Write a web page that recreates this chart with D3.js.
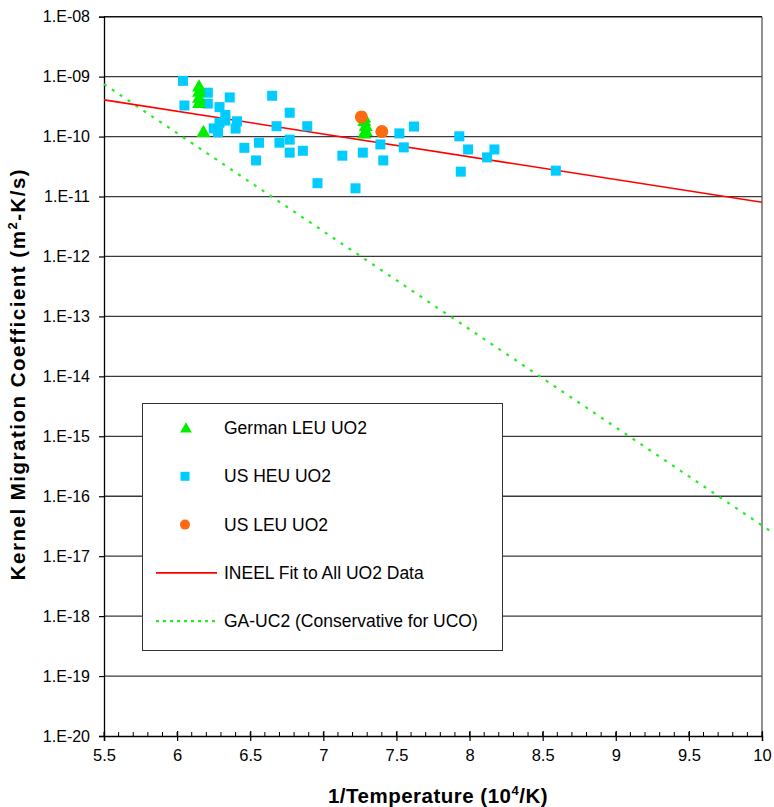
<!DOCTYPE html>
<html>
<head>
<meta charset="utf-8">
<script src="https://cdn.jsdelivr.net/npm/d3@7/dist/d3.min.js"></script>
<style>
  html, body { margin: 0; padding: 0; background: #fff; }
  svg { display: block; font-family: "Liberation Sans", Arial, sans-serif; }
</style>
</head>
<body>
<svg id="chart" width="774" height="807"></svg>
<script>
// German LEU UO2 (triangles): inverse temperature (10^4/K) and coefficient (m2-K/s)
const germanX = [6.15, 6.15, 6.15, 6.15, 6.18, 7.28, 7.28, 7.29, 7.29, 7.28];
const germanY = [6.6e-10, 5.4e-10, 4.3e-10, 3.5e-10, 1.15e-10, 2.0e-10, 1.75e-10, 1.45e-10, 1.2e-10, 1.08e-10];

// US HEU UO2 (squares)
const heuX = [6.04, 6.21, 6.05, 6.21, 6.36, 6.65, 6.29, 6.33, 6.77, 6.41,
              6.29, 6.33, 6.25, 6.40, 6.28, 6.68, 6.89, 6.56, 6.70, 6.77,
              6.46, 6.77, 6.86, 6.54, 6.96, 7.13, 7.27, 7.39, 7.52, 7.62,
              7.55, 7.41, 7.22, 7.93, 7.99, 8.17, 8.12, 7.94, 8.59];
const heuY = [8.5e-10, 5.4e-10, 3.3e-10, 3.55e-10, 4.5e-10, 4.8e-10, 3.1e-10, 2.3e-10, 2.5e-10, 1.8e-10,
              1.7e-10, 1.85e-10, 1.37e-10, 1.36e-10, 1.18e-10, 1.49e-10, 1.49e-10, 7.9e-11, 7.9e-11, 8.9e-11,
              6.5e-11, 5.4e-11, 5.8e-11, 4.0e-11, 1.67e-11, 4.8e-11, 5.4e-11, 7.4e-11, 1.13e-10, 1.47e-10,
              6.6e-11, 4.0e-11, 1.37e-11, 1.01e-10, 6.1e-11, 6.1e-11, 4.5e-11, 2.6e-11, 2.7e-11];

// US LEU UO2 (circles)
const leuX = [7.26, 7.40];
const leuY = [2.13e-10, 1.21e-10];

// INEEL fit to all UO2 data
const fitX = [5.5, 10];
const fitY = [4.1e-10, 8.0e-12];

// GA-UC2 curve (conservative for UCO)
const gaX = [5.5, 10.05];
const gaY = [7.5e-10, 2.7e-17];

// Axis ticks
const yTicks = [1e-8, 1e-9, 1e-10, 1e-11, 1e-12, 1e-13, 1e-14, 1e-15, 1e-16, 1e-17, 1e-18, 1e-19, 1e-20];
const xTicks = [5.5, 6, 6.5, 7, 7.5, 8, 8.5, 9, 9.5, 10];
const xMinorTicks = d3.range(55, 101).map(v => v / 10);

const legendLabels = ["German LEU UO2", "US HEU UO2", "US LEU UO2", "INEEL Fit to All UO2 Data", "GA-UC2 (Conservative for UCO)"];

const colGreen = "#00ee00";
const colBlue = "#00ccff";
const colOrange = "#ff6a10";
const colRed = "#ff0000";
const colDash = "#22ee22";

const svg = d3.select("#chart");
const L = 104, R = 762, T = 16.7, B = 736;

const x = d3.scaleLinear().domain([5.5, 10]).range([L, R]);
const y = d3.scaleLog().domain([1e-20, 1e-8]).range([B, T]);

// horizontal gridlines at each decade
svg.append("g").selectAll("line").data(yTicks.slice(1, -1)).join("line")
  .attr("x1", L).attr("x2", R)
  .attr("y1", d => y(d)).attr("y2", d => y(d))
  .attr("stroke", "#3a3a3a").attr("stroke-width", 1.3);

// frame: top and right edges
svg.append("line").attr("x1", L).attr("x2", R).attr("y1", y(1e-8)).attr("y2", y(1e-8))
  .attr("stroke", "#111").attr("stroke-width", 1.4);
svg.append("line").attr("x1", R).attr("x2", R).attr("y1", T).attr("y2", B)
  .attr("stroke", "#555").attr("stroke-width", 1.3);

// y axis
const yAxis = d3.axisLeft(y).tickValues(yTicks).tickSize(5).tickPadding(9)
  .tickFormat(d => "1.E-" + String(-Math.round(Math.log10(d))).padStart(2, "0"));
const gy = svg.append("g").attr("transform", `translate(${L},0)`).call(yAxis);
gy.select(".domain").attr("stroke", "#000").attr("stroke-width", 1.3);
gy.selectAll(".tick line").attr("stroke", "#000").attr("stroke-width", 1.2);
gy.selectAll("text").attr("font-size", 16).attr("fill", "#000");

// x axis: minor ticks inside, major ticks crossing the axis
const gxMinor = svg.append("g").attr("transform", `translate(0,${B})`);
gxMinor.selectAll("line").data(xMinorTicks).join("line")
  .attr("x1", d => x(d)).attr("x2", d => x(d)).attr("y1", -4).attr("y2", 0)
  .attr("stroke", "#000").attr("stroke-width", 1);
const xAxis = d3.axisBottom(x).tickValues(xTicks).tickSize(5).tickPadding(8)
  .tickFormat(d => String(d));
const gx = svg.append("g").attr("transform", `translate(0,${B})`).call(xAxis);
gx.select(".domain").attr("stroke", "#000").attr("stroke-width", 1.4);
gx.selectAll(".tick line").attr("y1", -5).attr("stroke", "#000").attr("stroke-width", 1.2);
gx.selectAll("text").attr("font-size", 16.5).attr("fill", "#000");

// lines
const line = d3.line().x(d => x(d[0])).y(d => y(d[1]));
svg.append("path").datum(d3.zip(gaX, gaY)).attr("d", line)
  .attr("fill", "none").attr("stroke", colDash).attr("stroke-width", 2.2)
  .attr("stroke-dasharray", "3,6.5");
svg.append("path").datum(d3.zip(fitX, fitY)).attr("d", line)
  .attr("fill", "none").attr("stroke", colRed).attr("stroke-width", 1.6);

// markers
const sq = 10;
svg.append("g").selectAll("rect").data(d3.zip(heuX, heuY)).join("rect")
  .attr("x", d => x(d[0]) - sq / 2).attr("y", d => y(d[1]) - sq / 2)
  .attr("width", sq).attr("height", sq).attr("fill", colBlue);

const tri = d3.symbol().type(d3.symbolTriangle).size(85);
svg.append("g").selectAll("path").data(d3.zip(germanX, germanY)).join("path")
  .attr("d", tri).attr("transform", d => `translate(${x(d[0])},${y(d[1])})`)
  .attr("fill", colGreen);

svg.append("g").selectAll("circle").data(d3.zip(leuX, leuY)).join("circle")
  .attr("cx", d => x(d[0])).attr("cy", d => y(d[1])).attr("r", 6.5)
  .attr("fill", colOrange);

// legend
const lg = svg.append("g");
lg.append("rect").attr("x", 142.5).attr("y", 403.5).attr("width", 360).attr("height", 247)
  .attr("fill", "#fff").attr("stroke", "#333").attr("stroke-width", 1);
const rowY = i => 428 + i * 48.3;
lg.append("path").attr("d", d3.symbol().type(d3.symbolTriangle).size(60))
  .attr("transform", `translate(186,${rowY(0) + 1})`).attr("fill", colGreen);
lg.append("rect").attr("x", 180.5).attr("y", rowY(1) - 4.5).attr("width", 9).attr("height", 9).attr("fill", colBlue);
lg.append("circle").attr("cx", 185).attr("cy", rowY(2)).attr("r", 5).attr("fill", colOrange);
lg.append("line").attr("x1", 156).attr("x2", 217).attr("y1", rowY(3)).attr("y2", rowY(3))
  .attr("stroke", colRed).attr("stroke-width", 1.6);
lg.append("line").attr("x1", 156).attr("x2", 217).attr("y1", rowY(4)).attr("y2", rowY(4))
  .attr("stroke", colDash).attr("stroke-width", 2.2).attr("stroke-dasharray", "3,4");
lg.selectAll("text").data(legendLabels).join("text")
  .attr("x", 224).attr("y", (d, i) => rowY(i) + 6)
  .attr("font-size", 17.5).attr("fill", "#000").text(d => d);

// axis titles
const xt = svg.append("text").attr("x", 438).attr("y", 803).attr("text-anchor", "middle")
  .attr("font-size", 20.5).attr("font-weight", "bold").attr("letter-spacing", 0.5).attr("fill", "#000");
xt.append("tspan").text("1/Temperature (10");
xt.append("tspan").attr("font-size", 13).attr("dy", -8).text("4");
xt.append("tspan").attr("dy", 8).text("/K)");

const yt = svg.append("text").attr("transform", "translate(25,374) rotate(-90)")
  .attr("text-anchor", "middle").attr("font-size", 20.5).attr("font-weight", "bold")
  .attr("letter-spacing", 1.5).attr("fill", "#000");
yt.append("tspan").text("Kernel Migration Coefficient (m");
yt.append("tspan").attr("font-size", 13).attr("dy", -8).text("2");
yt.append("tspan").attr("dy", 8).text("-K/s)");
</script>
</body>
</html>
